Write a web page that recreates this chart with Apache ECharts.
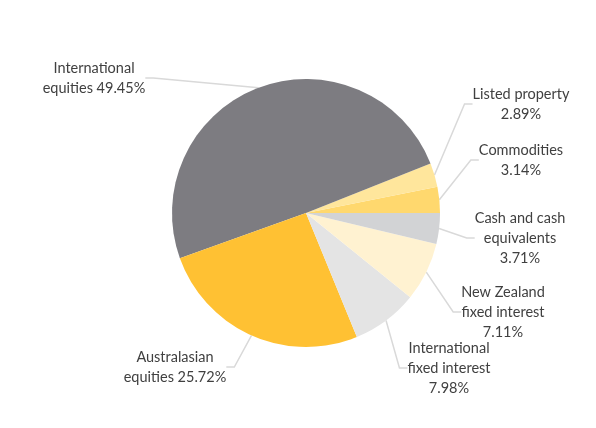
<!DOCTYPE html>
<html>
<head>
<meta charset="utf-8">
<script src="https://cdn.jsdelivr.net/npm/echarts@6/dist/echarts.min.js"></script>
<style>
  html, body { margin: 0; padding: 0; background: #fff; }
  #chart { width: 596px; height: 428px; }
</style>
</head>
<body>
<div id="chart"></div>
<script>
// asset classes, counter-clockwise from 3 o'clock
var categories = ['Commodities', 'Listed property', 'International\nequities', 'Australasian\nequities',
    'International\nfixed interest', 'New Zealand\nfixed interest', 'Cash and cash\nequivalents'];
var shares = [3.14, 2.89, 49.45, 25.72, 7.98, 7.11, 3.71];
var colors = ['#FFD86E', '#FFE69C', '#7D7C81', '#FFC133', '#E4E4E4', '#FFF2D1', '#D2D3D5'];

// where each label sits (text centre), Excel-style placement
var labelSpots = [[521, 160], [521, 104], [94, 78], [175, 367], [449, 368], [503, 312], [520, 238]];
var inlinePct = [false, false, true, true, false, false, false];

var chart = echarts.init(document.getElementById('chart'));

var data = [];
categories.forEach(function (c, i) {
    data.push({ name: c, value: shares[i], itemStyle: { color: colors[i] } });
});

var option = {
    animation: false,
    series: [{
        type: 'pie',
        center: [306, 213],
        radius: 134,
        startAngle: 0,
        clockwise: false,
        data: data,
        label: {
            show: true,
            position: 'outside',
            color: '#404040',
            fontFamily: 'Lato',
            fontSize: 14.5,
            lineHeight: 20,
            align: 'center',
            formatter: function (p) {
                var i = p.dataIndex;
                return p.name + (inlinePct[i] ? ' ' : '\n') + shares[i].toFixed(2) + '%';
            }
        },
        labelLine: {
            show: true,
            length: 12,
            length2: 8,
            lineStyle: { color: '#D9D9D9', width: 1.5 }
        },
        labelLayout: function (p) {
            var s = labelSpots[p.dataIndex];
            return { x: s[0], y: s[1], align: 'center', verticalAlign: 'middle' };
        }
    }]
};

chart.setOption(option);
</script>
</body>
</html>
